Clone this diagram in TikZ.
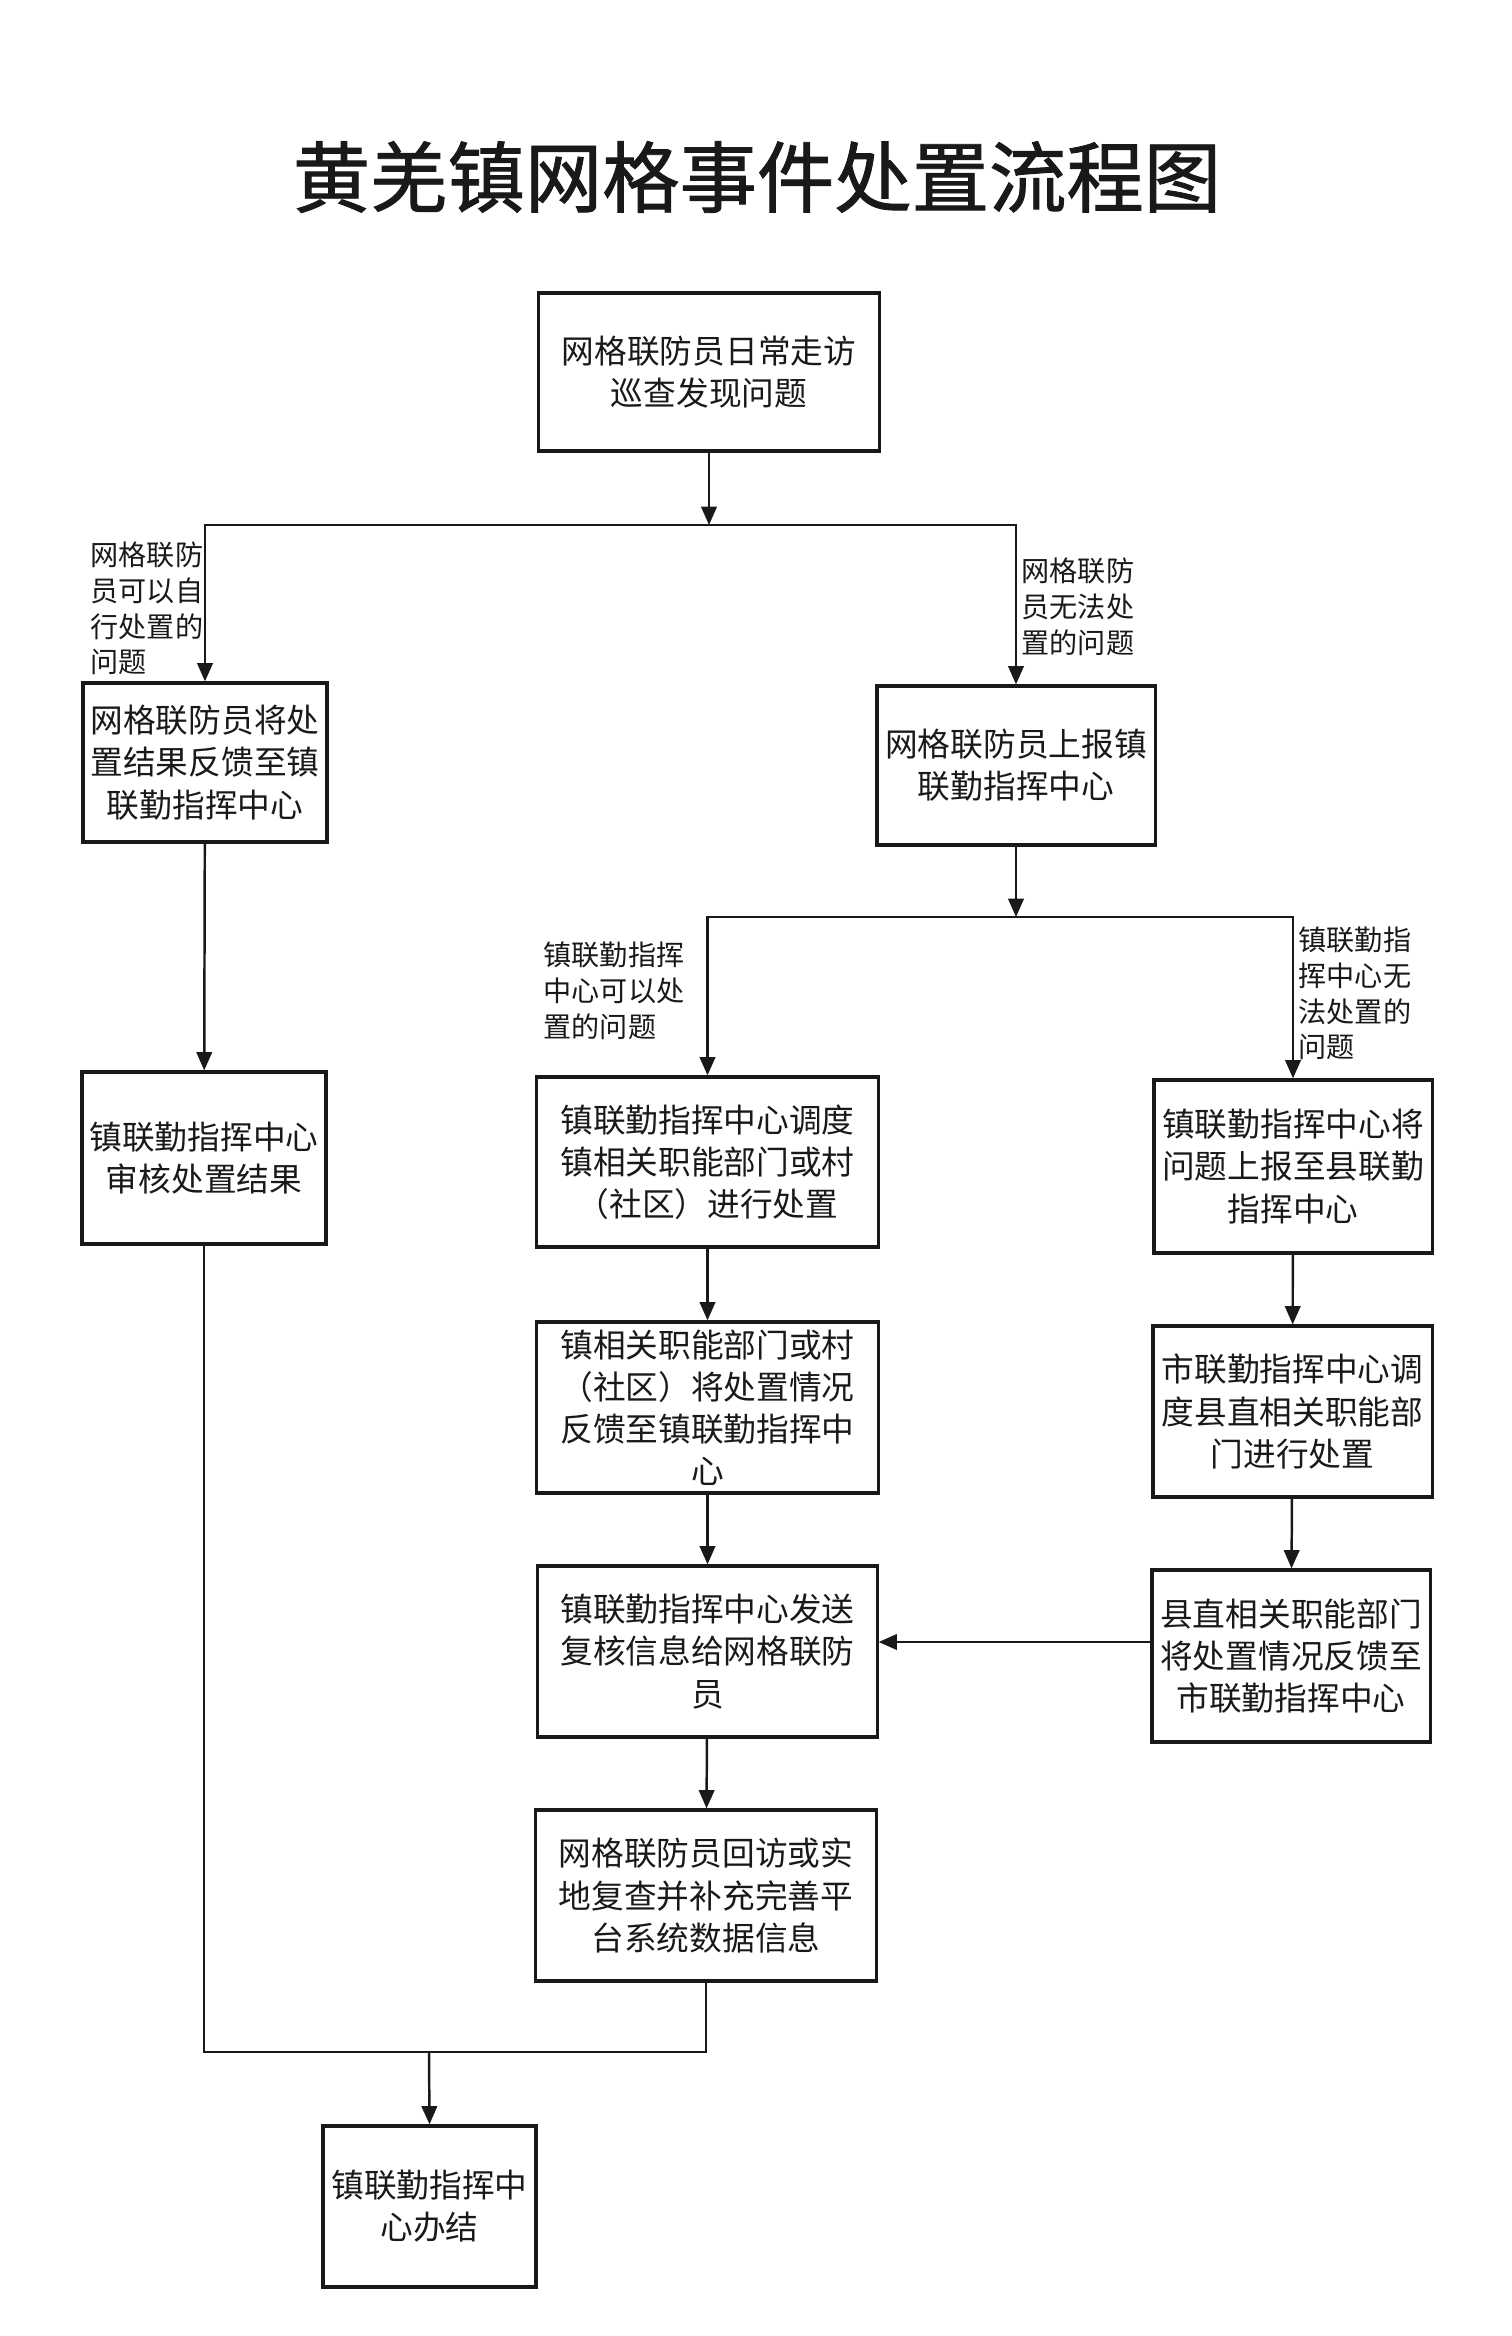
\documentclass[tikz,border=0pt]{standalone}
\usepackage{fontspec}
\setmainfont{Noto Sans CJK SC}
\newfontfamily\titlefont[FakeBold=1.2]{Noto Sans CJK SC}
\usepackage{tikz}
\usetikzlibrary{arrows.meta}
\definecolor{ink}{RGB}{25,25,25}
\tikzset{
    box/.style={draw=ink,line width=0.9pt,align=center,inner sep=0pt,text=ink,
      font=\fontsize{9.3}{12}\selectfont},
    boxsize/.style 2 args={minimum width=#1cm,minimum height=#2cm},
    lab/.style={anchor=north west,align=left,inner sep=0pt,text=ink,
      font=\fontsize{8}{10.2}\selectfont},
    line/.style={draw=ink,line width=0.7pt},
    arr/.style={line,-{Triangle[width=4.4pt,length=5.2pt]}}}

\begin{document}
\begin{tikzpicture}[x=0.01cm,y=-0.01cm]
        \useasboundingbox (0,0) rectangle (1512,2336);
        \node[text=ink,font=\titlefont\fontsize{22}{26}\selectfont] (title) at (757,177) {黄羌镇网格事件处置流程图};

        \node[box,boxsize={3.40}{1.58}] (patrol) at (709,372) {网格联防员日常走访\\巡查发现问题};
        \node[box,boxsize={2.44}{1.59}] (selffb) at (205,762.5) {网格联防员将处\\置结果反馈至镇\\联勤指挥中心};
        \node[box,boxsize={2.78}{1.59}] (report) at (1016,765.5) {网格联防员上报镇\\联勤指挥中心};
        \node[box,boxsize={2.44}{1.72}] (audit) at (204,1158) {镇联勤指挥中心\\审核处置结果};
        \node[box,boxsize={3.41}{1.70}] (dispatch) at (707.5,1162) {镇联勤指挥中心调度\\镇相关职能部门或村\\（社区）进行处置};
        \node[box,boxsize={3.41}{1.71}] (deptfb) at (707.5,1407.5) {镇相关职能部门或村\\（社区）将处置情况\\反馈至镇联勤指挥中\\心};
        \node[box,boxsize={2.78}{1.73}] (tocounty) at (1293,1166.5) {镇联勤指挥中心将\\问题上报至县联勤\\指挥中心};
        \node[box,boxsize={2.79}{1.71}] (citydisp) at (1292.5,1411.5) {市联勤指挥中心调\\度县直相关职能部\\门进行处置};
        \node[box,boxsize={2.78}{1.72}] (countyfb) at (1291,1656) {县直相关职能部门\\将处置情况反馈至\\市联勤指挥中心};
        \node[box,boxsize={3.39}{1.71}] (recheck) at (707.5,1651.5) {镇联勤指挥中心发送\\复核信息给网格联防\\员};
        \node[box,boxsize={3.40}{1.71}] (revisit) at (706,1895.5) {网格联防员回访或实\\地复查并补充完善平\\台系统数据信息};
        \node[box,boxsize={2.13}{1.61}] (close) at (429.5,2206.5) {镇联勤指挥中\\心办结};

        \node[lab] (lself) at (90,541) {网格联防\\员可以自\\行处置的\\问题};
        \node[lab] (lnot) at (1021,557) {网格联防\\员无法处\\置的问题};
        \node[lab] (lcan) at (543,941) {镇联勤指挥\\中心可以处\\置的问题};
        \node[lab] (lcannot) at (1298,926) {镇联勤指\\挥中心无\\法处置的\\问题};

        \coordinate (split1) at (709,525);
        \coordinate (split2) at (1016,917);
        \coordinate (back) at (1000,1642);
        \coordinate (merge) at (429,2052);

        \draw[arr] (patrol) -- (split1);
        \draw[arr] (split1) -| (selffb.north);
        \draw[arr] (split1) -| (report.north);
        \draw[arr] (selffb) -- (audit);
        \draw[arr] (report) -- (split2);
        \draw[arr] (split2) -| (dispatch.north);
        \draw[arr] (split2) -| (tocounty.north);
        \draw[arr] (dispatch) -- (deptfb);
        \draw[arr] (deptfb) -- (recheck);
        \draw[arr] (tocounty) -- (citydisp);
        \draw[arr] (citydisp) -- (countyfb);
        \draw[arr] (countyfb.west |- back) -- (recheck.east |- back);
        \draw[arr] (recheck) -- (revisit);
        \draw[line] (audit.south) |- (merge);
        \draw[line] (revisit.south) |- (merge);
        \draw[arr] (merge) -- (close.north);
      \end{tikzpicture}
\end{document}
